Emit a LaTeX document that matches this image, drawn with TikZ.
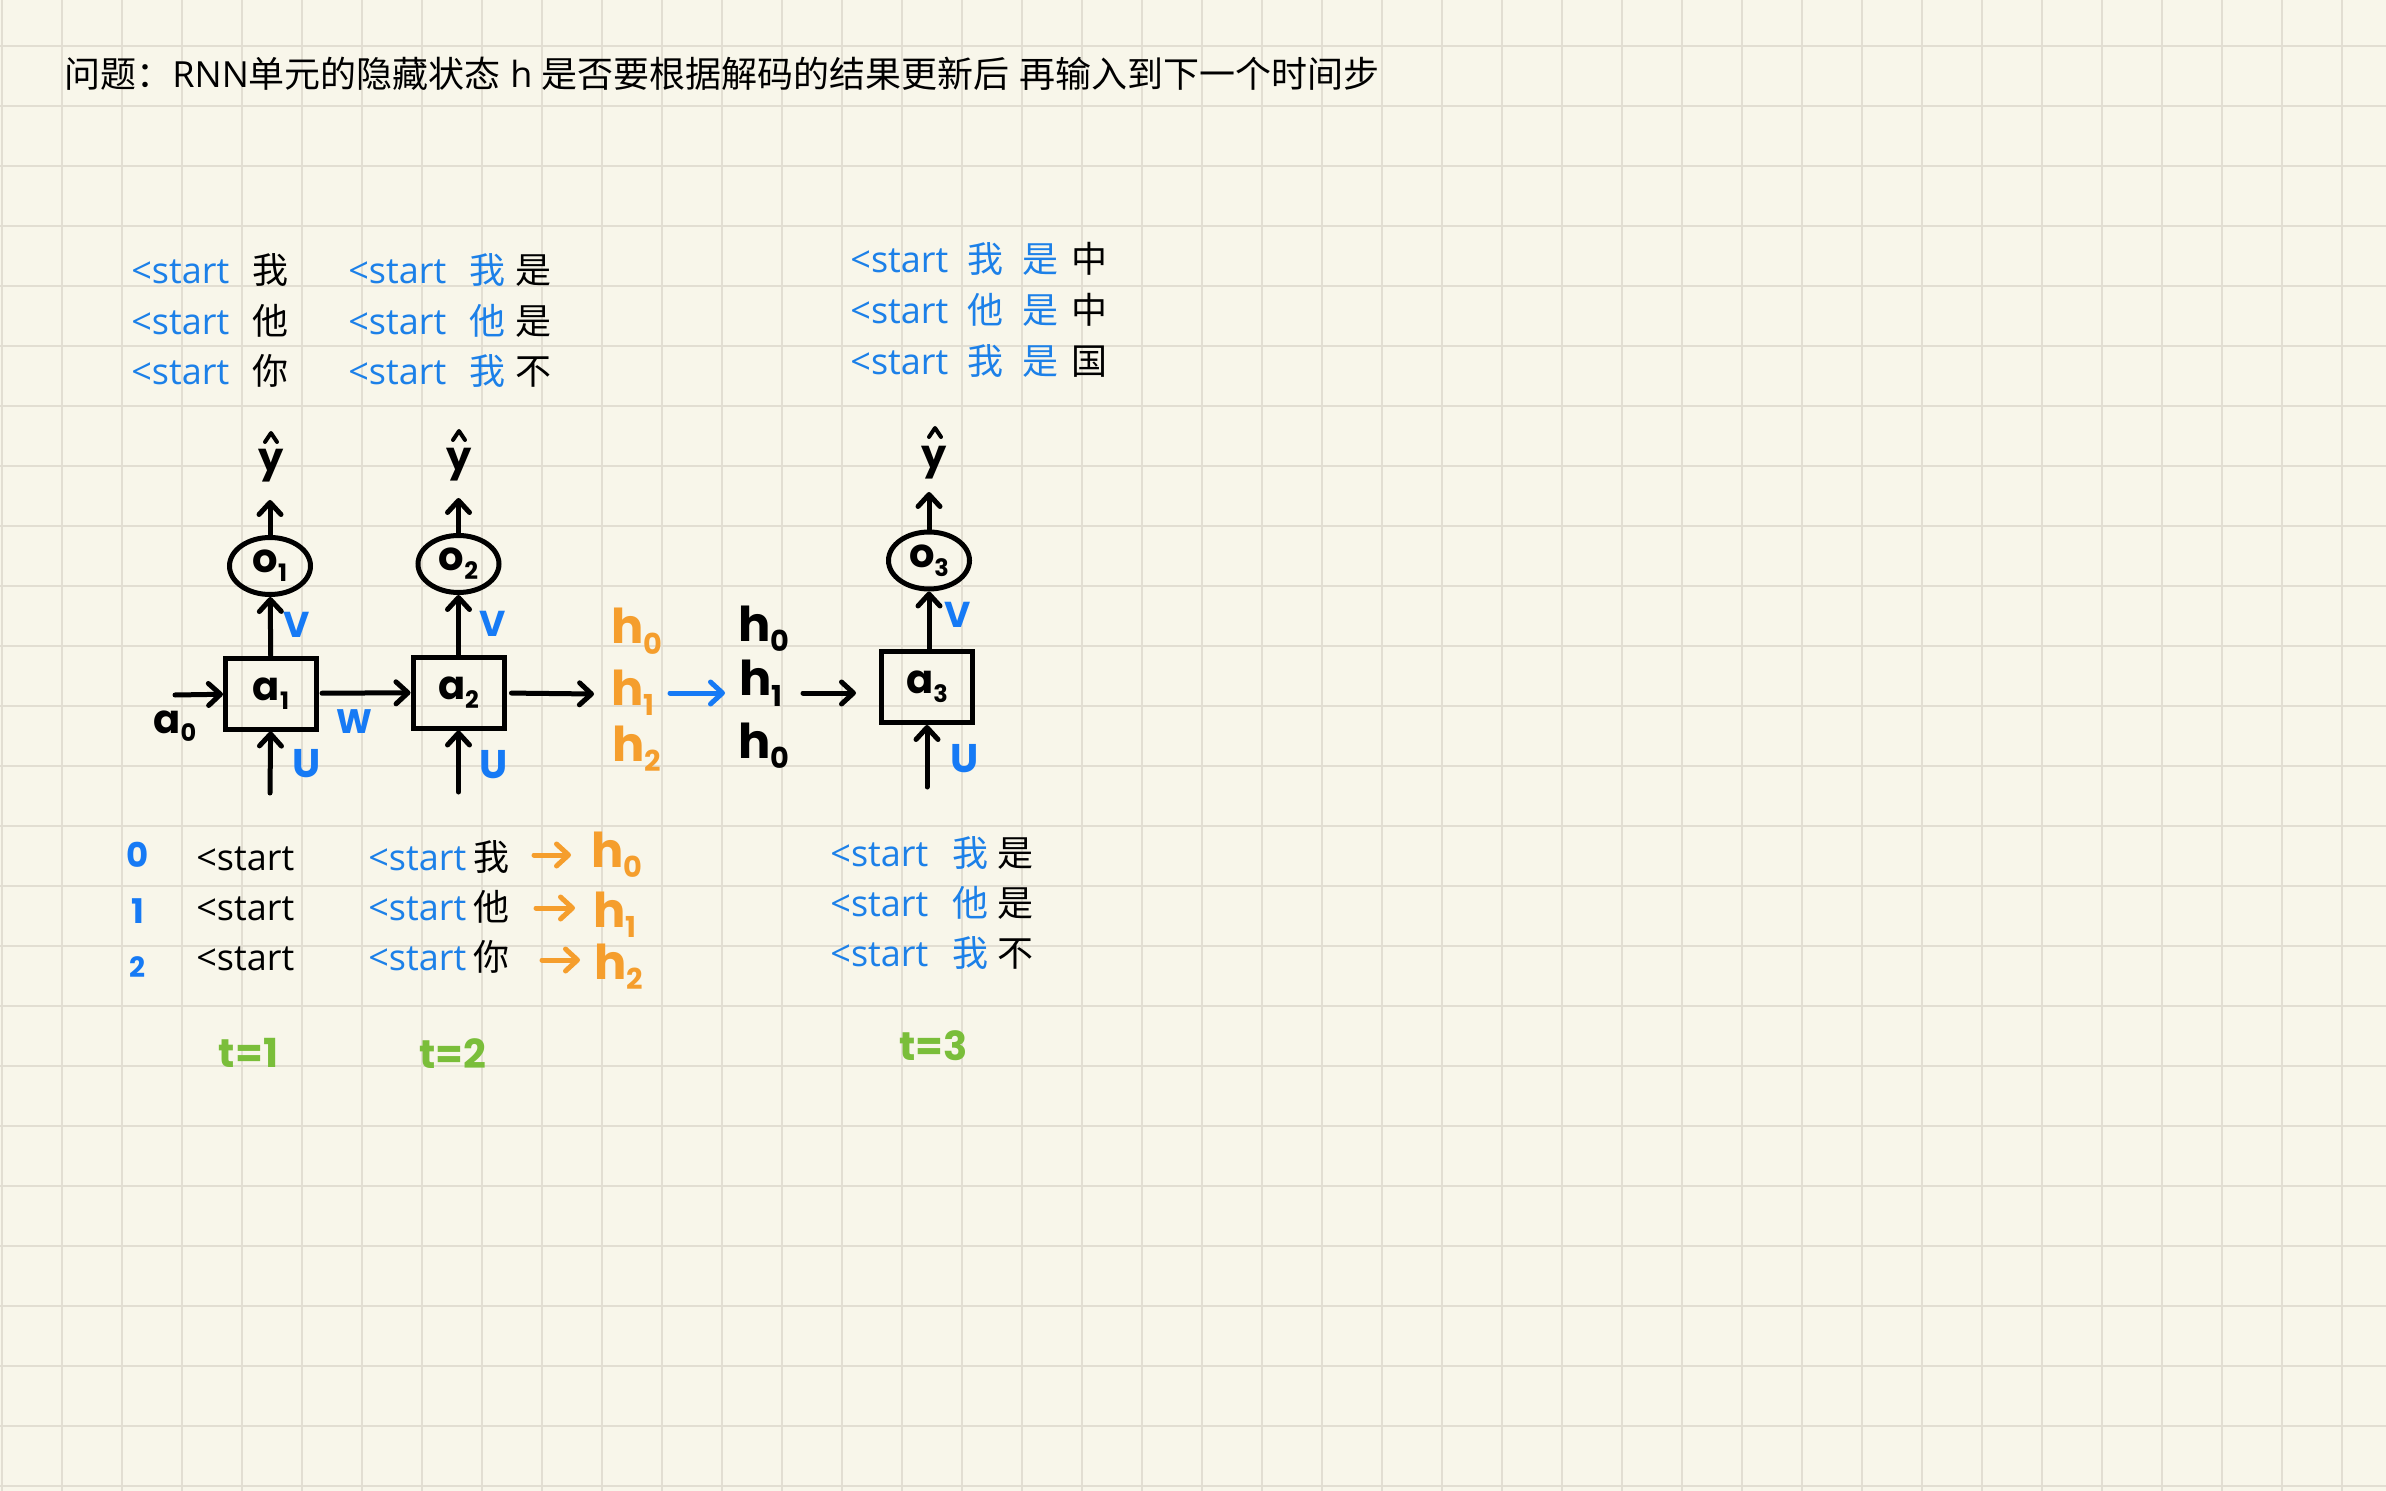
\documentclass[tikz,border=0pt]{standalone}
\usepackage{fontspec}
\usepackage{graphicx}
\setmainfont{Open Sans}
\newfontfamily\cjk{Noto Sans CJK SC}
\newfontfamily\hand{Poppins}
\usetikzlibrary{arrows.meta,shapes.geometric}
\definecolor{bg}{RGB}{248,246,234}
\definecolor{gridc}{RGB}{226,222,210}
\definecolor{hblue}{RGB}{22,122,245}
\definecolor{tblue}{RGB}{28,128,232}
\definecolor{horange}{RGB}{245,158,45}
\definecolor{hgreen}{RGB}{122,190,58}
\newcommand\hs[2]{#1\raisebox{-0.22em}{\scalebox{0.6}{#2}}}
\tikzset{
  gridline/.style={gridc, line width=1pt},
  typed/.style={inner sep=0pt, anchor=base west, font=\fontsize{18pt}{18pt}\selectfont},
  hw/.style={inner sep=0pt, font={\hand\bfseries\fontsize{#1}{#1}\selectfont}},
  cell/.style={draw, line width=2.5pt, minimum width=45.5pt, minimum height=35.5pt, inner sep=0pt, font={\hand\bfseries\fontsize{20pt}{20pt}\selectfont}},
  outnode/.style={ellipse, draw, line width=2.5pt, minimum width=40.5pt, minimum height=28.5pt, inner sep=0pt, font={\hand\bfseries\fontsize{20pt}{20pt}\selectfont}},
  arr/.style={line width=2.5pt, line cap=round, -{Straight Barb[length=6pt,width=11pt,round]}},
  hatline/.style={line width=2pt, line cap=round, line join=round},
}
\begin{document}
\begin{tikzpicture}[x=0.5pt,y=-0.5pt]
\useasboundingbox (0,0) rectangle (2386,1491);
\fill[bg] (0,0) rectangle (2386,1491);
\foreach \i in {0,...,39} \draw[gridline] ({2+60*\i},0) -- ({2+60*\i},1491);
\foreach \j in {0,...,24} \draw[gridline] (0,{46+60*\j}) -- (2386,{46+60*\j});

% title
\node[typed] (title) at (64,88) {{\cjk 问题：}RNN{\cjk 单元的隐藏状态} h {\cjk 是否要根据解码的结果更新后} {\cjk 再输入到下一个时间步}};

% top block t=1
\node[typed,text=tblue] (pa1) at (131,284) {<start};
\node[typed,text=tblue] (pa2) at (131,334.5) {<start};
\node[typed,text=tblue] (pa3) at (131,385) {<start};
\node[typed] (ca1) at (252,284) {\cjk 我};
\node[typed] (ca2) at (252,334.5) {\cjk 他};
\node[typed] (ca3) at (252,385) {\cjk 你};

% top block t=2
\node[typed,text=tblue] (pb1) at (348,284) {<start};
\node[typed,text=tblue] (pb2) at (348,334.5) {<start};
\node[typed,text=tblue] (pb3) at (348,385) {<start};
\node[typed,text=tblue] (cb1) at (469,284) {\cjk 我};
\node[typed,text=tblue] (cb2) at (469,334.5) {\cjk 他};
\node[typed,text=tblue] (cb3) at (469,385) {\cjk 我};
\node[typed] (db1) at (515,284) {\cjk 是};
\node[typed] (db2) at (515,334.5) {\cjk 是};
\node[typed] (db3) at (515,385) {\cjk 不};

% top block t=3
\node[typed,text=tblue] (pc1) at (850,273) {<start};
\node[typed,text=tblue] (pc2) at (850,324) {<start};
\node[typed,text=tblue] (pc3) at (850,375) {<start};
\node[typed,text=tblue] (cc1) at (967,273) {\cjk 我};
\node[typed,text=tblue] (cc2) at (967,324) {\cjk 他};
\node[typed,text=tblue] (cc3) at (967,375) {\cjk 我};
\node[typed,text=tblue] (dc1) at (1022,273) {\cjk 是};
\node[typed,text=tblue] (dc2) at (1022,324) {\cjk 是};
\node[typed,text=tblue] (dc3) at (1022,375) {\cjk 是};
\node[typed] (ec1) at (1071,273) {\cjk 中};
\node[typed] (ec2) at (1071,324) {\cjk 中};
\node[typed] (ec3) at (1071,375) {\cjk 国};

% RNN cells
\node[cell] (box1) at (271,693.5) {\hs{a}{1}};
\node[cell] (box2) at (458.5,692.5) {\hs{a}{2}};
\node[cell] (box3) at (927,687) {\hs{a}{3}};
\node[outnode] (o1) at (270,566) {\hs{o}{1}};
\node[outnode] (o2) at (458.5,564) {\hs{o}{2}};
\node[outnode] (o3) at (929,560.5) {\hs{o}{3}};

% y hats
\node[hw=20pt, anchor=base] (y1) at (271,472) {y};
\node[hw=20pt, anchor=base] (y2) at (459,471) {y};
\node[hw=20pt, anchor=base] (y3) at (934,469) {y};
\draw[hatline] (265,442) -- (271,433) -- (277,442);
\draw[hatline] (453,440) -- (459,431) -- (465,440);
\draw[hatline] (929,437) -- (935,428) -- (941,437);

% coordinates
\coordinate (top1) at (270,500);
\coordinate (top2) at (458.5,498);
\coordinate (top3) at (929,492);
\coordinate (bot1) at (270,793);
\coordinate (bot2) at (458.5,792);
\coordinate (bot3) at (927,787);
\coordinate (a0s) at (175,695);
\coordinate (r2e) at (594,694);
\coordinate (bls) at (670,693);
\coordinate (ble) at (725,693);
\coordinate (kls) at (803,693);
\coordinate (kle) at (856,693);

% vertical connectors
\draw[arr] (box1) -- (o1);
\draw[arr] (box2) -- (o2);
\draw[arr] (box3.north -| o3) -- (o3.south);
\draw[arr] (o1) -- (top1);
\draw[arr] (o2) -- (top2);
\draw[arr] (o3) -- (top3);
\draw[arr] (bot1) -- (box1);
\draw[arr] (bot2) -- (box2);
\draw[arr] (bot3) -- (box3);

% horizontal connectors
\draw[arr] (a0s) -- (box1);
\draw[arr, shorten <=1.5pt] (box1) -- (box2);
\draw[arr, shorten <=2.5pt] (box2) -- (r2e);
\draw[arr, hblue] (bls) -- (ble);
\draw[arr] (kls) -- (kle);

% cell labels
\node[hw=20pt, anchor=base west] (a0) at (153,733) {\hs{a}{0}};
\node[hw=18pt, anchor=base, text=hblue] (v1) at (297,638) {V};
\node[hw=18pt, anchor=base, text=hblue] (v2) at (493,637) {V};
\node[hw=18pt, anchor=base, text=hblue] (v3) at (958,627) {V};
\node[hw=20pt, anchor=base, text=hblue] (u1) at (306.5,777) {U};
\node[hw=20pt, anchor=base, text=hblue] (u2) at (493.5,778) {U};
\node[hw=20pt, anchor=base, text=hblue] (u3) at (965,772) {U};
\node[hw=17pt, anchor=base, text=hblue] (w) at (354.5,733) {W};

% hidden states
\node[hw=24pt, anchor=base west, text=horange] (h0o) at (611,644) {\hs{h}{0}};
\node[hw=24pt, anchor=base west, text=horange] (h1o) at (611,705) {\hs{h}{1}};
\node[hw=24pt, anchor=base west, text=horange] (h2o) at (612,761) {\hs{h}{2}};
\node[hw=24pt, anchor=base west] (h0b) at (738,641) {\hs{h}{0}};
\node[hw=24pt, anchor=base west] (h1b) at (739,696) {\hs{h}{1}};
\node[hw=24pt, anchor=base west] (h2b) at (738,758) {\hs{h}{0}};

% bottom block t=1
\node[hw=17pt, anchor=base, text=hblue] (i0) at (138,867) {0};
\node[hw=17pt, anchor=base, text=hblue] (i1) at (138,923) {1};
\node[hw=14pt, anchor=base, text=hblue] (i2) at (137,977) {2};
\node[typed] (qa1) at (196,870) {<start};
\node[typed] (qa2) at (196,920) {<start};
\node[typed] (qa3) at (196,970) {<start};

% bottom block t=2
\node[typed,text=tblue] (qb1) at (368,870) {<start};
\node[typed,text=tblue] (qb2) at (368,920) {<start};
\node[typed,text=tblue] (qb3) at (368,970) {<start};
\node[typed] (kb1) at (473,870) {\cjk 我};
\node[typed] (kb2) at (473,920) {\cjk 他};
\node[typed] (kb3) at (473,970) {\cjk 你};
\coordinate (oa1) at (534,855);
\coordinate (ob1) at (571,855);
\coordinate (oa2) at (536,908);
\coordinate (ob2) at (575,908);
\coordinate (oa3) at (542,960);
\coordinate (ob3) at (580,960);
\draw[arr, horange] (oa1) -- (ob1);
\draw[arr, horange] (oa2) -- (ob2);
\draw[arr, horange] (oa3) -- (ob3);
\node[hw=24pt, anchor=base west, text=horange] (bh0) at (591,867) {\hs{h}{0}};
\node[hw=24pt, anchor=base west, text=horange] (bh1) at (593,927) {\hs{h}{1}};
\node[hw=24pt, anchor=base west, text=horange] (bh2) at (594,979) {\hs{h}{2}};

% bottom block t=3
\node[typed,text=tblue] (qc1) at (830,866) {<start};
\node[typed,text=tblue] (qc2) at (830,916) {<start};
\node[typed,text=tblue] (qc3) at (830,966) {<start};
\node[typed,text=tblue] (kc1) at (952,866) {\cjk 我};
\node[typed,text=tblue] (kc2) at (952,916) {\cjk 他};
\node[typed,text=tblue] (kc3) at (952,966) {\cjk 我};
\node[typed] (lc1) at (997,866) {\cjk 是};
\node[typed] (lc2) at (997,916) {\cjk 是};
\node[typed] (lc3) at (997,966) {\cjk 不};

% time steps
\node[hw=20pt, anchor=base, text=hgreen] (t1) at (248.5,1067) {t=1};
\node[hw=20pt, anchor=base, text=hgreen] (t2) at (453,1068) {t=2};
\node[hw=20pt, anchor=base, text=hgreen] (t3) at (933.5,1060) {t=3};
\end{tikzpicture}
\end{document}
